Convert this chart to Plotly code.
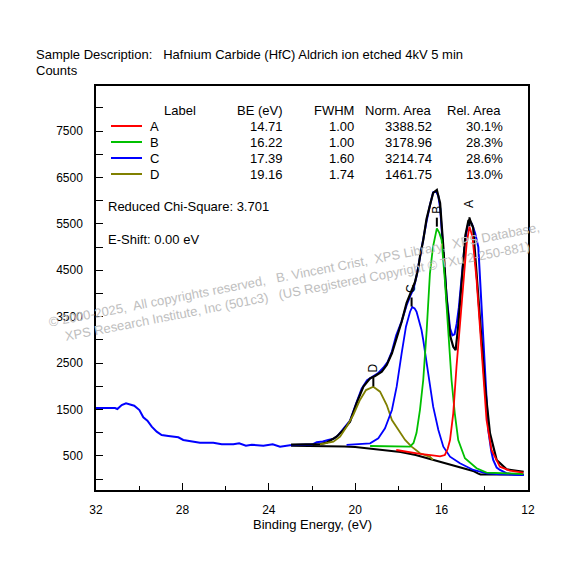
import plotly.graph_objects as go

FONT = "Liberation Sans, Arial, sans-serif"

# raw spectrum (blue)
raw_x = [32.0, 31.12, 31.01, 30.81, 30.61, 30.42, 30.23, 29.99, 29.81, 29.62,
         29.42, 29.19, 28.96, 28.65, 28.19, 27.96, 27.5, 27.19, 26.57, 26.18,
         25.64, 25.37, 25.06, 24.79, 24.25, 23.82, 23.48, 23.02, 22.5, 22.0,
         21.78, 21.5, 21.25, 21.0, 20.8, 20.55, 20.24, 19.94, 19.7, 19.45,
         19.2, 18.95, 18.7, 18.5, 18.3, 18.1, 17.85, 17.62, 17.45, 17.3,
         17.15, 17.0, 16.85, 16.7, 16.54, 16.39, 16.25, 16.15, 16.07, 15.92,
         15.77, 15.61, 15.5, 15.4, 15.3, 15.2, 15.07, 14.92, 14.8, 14.7,
         14.6, 14.45, 14.3, 14.14, 13.99, 13.84, 13.7, 13.61, 13.45, 13.3,
         13.0, 12.6, 12.2]
raw_y = [1534, 1534, 1512, 1598, 1635, 1605, 1583, 1490, 1333, 1260,
         1131, 1023, 952, 930, 902, 844, 816, 786, 786, 751,
         751, 773, 722, 743, 722, 751, 700, 730, 740, 745,
         794, 810, 844, 870, 940, 1080, 1260, 1650, 1950, 2130,
         2200, 2280, 2400, 2520, 2750, 3100, 3400, 3750, 3950, 4100,
         4400, 4800, 5150, 5550, 5900, 6180, 6200, 6100, 5850, 4900,
         3950, 3250, 3100, 3120, 3350, 3700, 4300, 5100, 5450, 5550,
         5500, 5300, 5000, 3574, 2137, 1060, 600, 414, 250, 198,
         130, 100, 90]

# fit envelope (black)
env_x = [22.97, 22.0, 21.6, 21.32, 21.09, 20.86, 20.55, 20.24, 19.94, 19.62,
         19.31, 19.08, 18.77, 18.54, 18.3, 18.0, 17.85, 17.62, 17.39, 17.23,
         17.08, 17.0, 16.85, 16.7, 16.54, 16.39, 16.22, 16.07, 15.92, 15.77,
         15.61, 15.46, 15.35, 15.23, 15.07, 14.9, 14.76, 14.69, 14.54, 14.35,
         14.14, 13.99, 13.76, 13.45, 12.99, 12.37, 12.2]
env_y = [745, 750, 758, 786, 844, 916, 1060, 1239, 1635, 1993,
         2173, 2223, 2316, 2460, 2712, 3143, 3392, 3800, 4075, 4250,
         4550, 4800, 5150, 5600, 5900, 6170, 6230, 5950, 5000, 3900,
         3100, 2850, 2780, 3300, 4250, 5250, 5570, 5590, 5420, 4291,
         2998, 1993, 989, 414, 213, 161, 160]

# background (black)
bg_x = [22.97, 21.5, 20.5, 20.0, 19.4, 18.6, 17.9, 17.2, 16.8, 16.4,
        16.0, 15.6, 15.2, 14.8, 14.5, 14.3, 14.2, 13.5, 12.8, 12.2]
bg_y = [720, 718, 705, 695, 665, 625, 585, 520, 470, 415,
        360, 305, 255, 210, 170, 118, 100, 100, 100, 100]

# components
a_x = [18.1, 17.5, 17.0, 16.5, 16.07, 15.85, 15.72, 15.61, 15.46, 15.31,
       15.18, 15.0, 14.84, 14.71, 14.57, 14.38, 14.22, 14.07, 13.92, 13.69,
       13.3, 12.84, 12.22]
a_y = [629, 580, 545, 520, 490, 521, 650, 844, 1419, 2423,
       3214, 4291, 5081, 5439, 5223, 4291, 3214, 2137, 1275, 629,
       269, 183, 140]

b_x = [19.31, 18.5, 17.93, 17.46, 17.3, 17.16, 17.0, 16.85, 16.69, 16.54,
       16.4, 16.22, 16.1, 16.0, 15.85, 15.69, 15.54, 15.39, 15.23, 14.92,
       14.38, 13.92, 13.3, 12.22]
b_y = [715, 705, 700, 700, 780, 1000, 1500, 2137, 3214, 4435,
       5000, 5404, 5300, 5152, 4291, 3214, 2137, 1419, 844, 450,
       235, 140, 127, 112]

c_x = [20.4, 20.09, 19.6, 19.31, 18.93, 18.62, 18.3, 18.08, 17.85, 17.65,
       17.46, 17.36, 17.25, 17.16, 16.93, 16.85, 16.62, 16.39, 16.15, 15.92,
       15.61, 15.15, 14.53, 13.92, 13.3, 12.2]
c_y = [740, 751, 760, 773, 881, 1096, 1490, 1993, 2712, 3285,
       3608, 3710, 3680, 3608, 3214, 2998, 2281, 1562, 1060, 700,
       485, 342, 198, 127, 105, 90]

d_x = [21.63, 21.32, 21.01, 20.7, 20.4, 20.09, 19.78, 19.5, 19.16, 18.85,
       18.54, 18.3, 18.0, 17.69, 17.39, 17.0, 16.54, 16.4]
d_y = [751, 773, 808, 916, 1131, 1383, 1706, 1920, 1993, 1885,
       1598, 1275, 1060, 844, 700, 558, 480, 415]

peak_labels = ["A", "B", "C", "D"]
peak_be = [14.71, 16.22, 17.39, 19.16]
peak_fwhm = ["1.00", "1.00", "1.60", "1.74"]
peak_area = ["3388.52", "3178.96", "3214.74", "1461.75"]
peak_rel = ["30.1%", "28.3%", "28.6%", "13.0%"]
mark_lo = [5450, 5440, 3720, 2000]
mark_hi = [5760, 5720, 3990, 2210]
label_y = [5940, 5800, 4110, 2390]
peak_colors = ["#ff0000", "#00c000", "#0000ff", "#808000"]

fig = go.Figure()

fig.add_trace(go.Scatter(x=bg_x, y=bg_y, mode="lines",
                         line=dict(color="black", width=2)))
fig.add_trace(go.Scatter(x=raw_x, y=raw_y, mode="lines",
                         line=dict(color="#0000ff", width=2)))
fig.add_trace(go.Scatter(x=env_x, y=env_y, mode="lines",
                         line=dict(color="black", width=2.2)))
for cx, cy, col in [(d_x, d_y, peak_colors[3]), (c_x, c_y, peak_colors[2]),
                    (b_x, b_y, peak_colors[1]), (a_x, a_y, peak_colors[0])]:
    fig.add_trace(go.Scatter(x=cx, y=cy, mode="lines",
                             line=dict(color=col, width=1.8)))

# peak position markers
for be, lo, hi in zip(peak_be, mark_lo, mark_hi):
    fig.add_trace(go.Scatter(x=[be, be], y=[lo, hi], mode="lines",
                             line=dict(color="black", width=2, dash="dash")))


# page body has an 8px margin, so the plot box sits at 96..528 x 86..490 on screen
def px_x(px):
    return (px - 96) / 432


def px_y(py):
    return (490 - py) / 404


ann = []
small = dict(family=FONT, size=12, color="black")
text13 = dict(family=FONT, size=13, color="black")

for lab, be, ly in zip(peak_labels, peak_be, label_y):
    ann.append(dict(x=be, y=ly, xref="x", yref="y", text=lab, showarrow=False,
                    textangle=-90, font=small, xanchor="center", yanchor="middle"))

ann.append(dict(x=px_x(34), y=px_y(55), xref="paper", yref="paper",
                text="Sample Description:\u00a0\u00a0\u00a0Hafnium Carbide (HfC) Aldrich ion etched 4kV 5 min",
                showarrow=False, xanchor="left", yanchor="middle", font=text13))
ann.append(dict(x=px_x(34), y=px_y(71), xref="paper", yref="paper", text="Counts",
                showarrow=False, xanchor="left", yanchor="middle", font=text13))

# fit table
ann.append(dict(x=px_x(162), y=px_y(110.5), xref="paper", yref="paper", text="Label",
                showarrow=False, xanchor="left", yanchor="middle", font=text13))
for txt, rx in [("BE (eV)", 285), ("FWHM", 356), ("Norm. Area", 434), ("Rel. Area", 503)]:
    ann.append(dict(x=px_x(rx), y=px_y(110.5), xref="paper", yref="paper", text=txt,
                    showarrow=False, xanchor="right", yanchor="middle", font=text13))

shapes = []
row_y = [126, 142, 158, 174]
for i, lab in enumerate(peak_labels):
    ry = row_y[i]
    shapes.append(dict(type="line", xref="paper", yref="paper",
                       x0=px_x(111), x1=px_x(142), y0=px_y(ry), y1=px_y(ry),
                       line=dict(color=peak_colors[i], width=2)))
    ann.append(dict(x=px_x(148), y=px_y(ry), xref="paper", yref="paper", text=lab,
                    showarrow=False, xanchor="left", yanchor="middle", font=text13))
    for txt, rx in [("%.2f" % peak_be[i], 285), (peak_fwhm[i], 356),
                    (peak_area[i], 434), (peak_rel[i], 505)]:
        ann.append(dict(x=px_x(rx), y=px_y(ry), xref="paper", yref="paper", text=txt,
                        showarrow=False, xanchor="right", yanchor="middle", font=text13))

ann.append(dict(x=px_x(106), y=px_y(206), xref="paper", yref="paper",
                text="Reduced Chi-Square: 3.701", showarrow=False,
                xanchor="left", yanchor="middle", font=text13))
ann.append(dict(x=px_x(106), y=px_y(239), xref="paper", yref="paper",
                text="E-Shift: 0.00 eV", showarrow=False,
                xanchor="left", yanchor="middle", font=text13))

ann.append(dict(x=px_x(312), y=px_y(524), xref="paper", yref="paper",
                text="Binding Energy, (eV)", showarrow=False,
                xanchor="center", yanchor="middle", font=text13))

# copyright watermark
ann.append(dict(x=px_x(296), y=px_y(283), xref="paper", yref="paper",
                text="\u00a9 2000-2025,\u00a0 All copyrights reserved,\u00a0\u00a0 B. Vincent Crist,\u00a0 XPS Library,\u00a0 XPS Database,"
                     "<br>XPS Research Institute, Inc (501c3)\u00a0\u00a0 (US Registered Copyright \u00a9 TXu 2-250-881)",
                showarrow=False, textangle=-11, align="center",
                xanchor="center", yanchor="middle",
                font=dict(family=FONT, size=13, color="rgb(190,190,190)")))

fig.update_layout(
    width=586, height=564,
    margin=dict(l=88, r=66, t=78, b=82),
    paper_bgcolor="white", plot_bgcolor="white",
    showlegend=False,
    annotations=ann, shapes=shapes,
    font=small,
)
fig.update_xaxes(range=[32, 12], showgrid=False, zeroline=False,
                 showline=True, linecolor="black", linewidth=1.5, mirror=True,
                 tickvals=[32, 28, 24, 20, 16, 12], ticks="inside", ticklen=7,
                 tickcolor="black", tickfont=small, ticklabelstandoff=8,
                 minor=dict(tickvals=[30, 26, 22, 18, 14], ticks="inside",
                            ticklen=4, tickcolor="black"))
fig.update_yaxes(range=[-233, 8470], showgrid=False, zeroline=False,
                 showline=True, linecolor="black", linewidth=1.5, mirror=True,
                 tickvals=[500, 1500, 2500, 3500, 4500, 5500, 6500, 7500],
                 ticks="inside", ticklen=7, tickcolor="black", tickfont=small,
                 ticklabelstandoff=9,
                 minor=dict(tickvals=[0, 1000, 2000, 3000, 4000, 5000, 6000, 7000, 8000],
                            ticks="inside", ticklen=7, tickcolor="black"))

fig.write_html("out.html")
